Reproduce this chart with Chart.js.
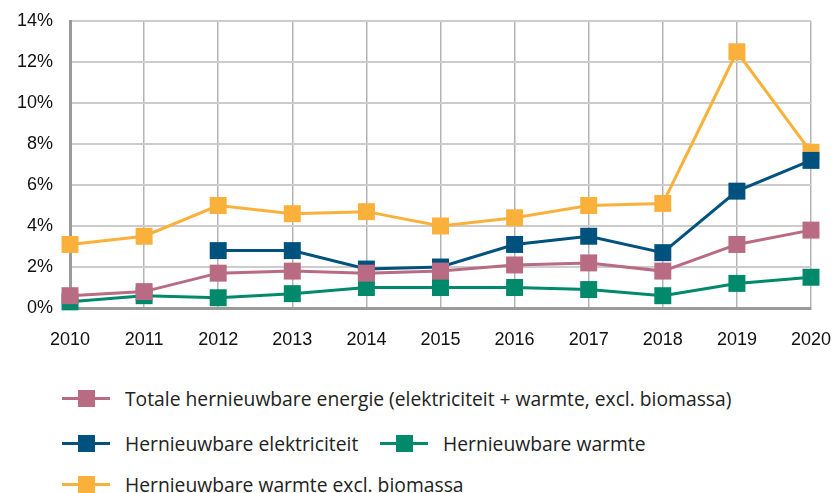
<!DOCTYPE html>
<html>
<head>
<meta charset="utf-8">
<script src="https://cdn.jsdelivr.net/npm/chart.js@4/dist/chart.umd.min.js"></script>
<style>
  body { margin:0; background:#fff; width:837px; height:493px; overflow:hidden; position:relative; }
  #wrap { position:absolute; left:0; top:0; width:837px; height:360px; }
  .leg { position:absolute; height:18px; line-height:18px; font-family:"Open Sans", "Liberation Sans", sans-serif; font-size:19.3px; color:#222; white-space:nowrap; }
  .ico { position:absolute; left:0; top:0; width:48px; height:17px; }
  .ico .ln { position:absolute; left:0; right:0; top:7px; height:3px; }
  .ico .sq { position:absolute; left:16px; top:0; width:17px; height:17px; }
  .txt { position:absolute; left:63px; top:0; }
</style>
</head>
<body>
<div id="wrap"><canvas id="c"></canvas></div>
<div id="legend"></div>
<script>
const years = ["2010","2011","2012","2013","2014","2015","2016","2017","2018","2019","2020"];
const totaal      = [0.6, 0.8, 1.7, 1.8, 1.7, 1.8, 2.1, 2.2, 1.8, 3.1, 3.8];
const elektr      = [null, null, 2.8, 2.8, 1.9, 2.0, 3.1, 3.5, 2.7, 5.7, 7.2];
const warmte      = [0.3, 0.6, 0.5, 0.7, 1.0, 1.0, 1.0, 0.9, 0.6, 1.2, 1.5];
const warmteExBio = [3.1, 3.5, 5.0, 4.6, 4.7, 4.0, 4.4, 5.0, 5.1, 12.5, 7.6];

const names = [
  "Totale hernieuwbare energie (elektriciteit + warmte, excl. biomassa)",
  "Hernieuwbare elektriciteit",
  "Hernieuwbare warmte",
  "Hernieuwbare warmte excl. biomassa"
];
const colors = ["#b86b82", "#00527e", "#00896a", "#f9b13c"];
const series = [totaal, elektr, warmte, warmteExBio];

// legend rows laid out like the original (1 / 2+3 / 4)
const legPos = [
  { left: 62, top: 399 },
  { left: 62, top: 444 },
  { left: 380, top: 444 },
  { left: 62, top: 485 }
];
const legEl = document.getElementById("legend");
names.forEach((n, i) => {
  const d = document.createElement("div");
  d.className = "leg";
  d.style.left = legPos[i].left + "px";
  d.style.top = (legPos[i].top - 9) + "px";
  d.innerHTML = '<span class="ico"><span class="ln" style="background:' + colors[i] + '"></span>' +
    '<span class="sq" style="background:' + colors[i] + '"></span></span><span class="txt">' + n + '</span>';
  legEl.appendChild(d);
});

const tickFont = { family: "Liberation Sans, Arial, sans-serif", size: 18 };

new Chart(document.getElementById("c"), {
  type: "line",
  data: {
    labels: years,
    datasets: series.map((s, i) => ({
      label: names[i],
      data: s,
      borderColor: colors[i],
      backgroundColor: colors[i],
      borderWidth: 3,
      tension: 0,
      pointStyle: "rect",
      pointRadius: 12,
      pointHoverRadius: 12,
      pointBorderWidth: 0,
      clip: false
    }))
  },
  options: {
    responsive: true,
    maintainAspectRatio: false,
    animation: false,
    layout: { padding: { left: 0, right: 26, top: 21, bottom: 0 } },
    plugins: { legend: { display: false }, tooltip: { enabled: false } },
    scales: {
      x: {
        offset: false,
        grid: { color: "#b4b4b4", lineWidth: 1.5, drawTicks: false },
        border: { color: "#9a9a9a", width: 3 },
        ticks: { color: "#111", font: tickFont, padding: 21, maxRotation: 0 },
        afterFit: s => { s.height = 52; s.paddingLeft = 0; s.paddingRight = 0; }
      },
      y: {
        min: 0, max: 14,
        grid: { color: "#cccccc", lineWidth: 2, drawTicks: false },
        border: { color: "#9a9a9a", width: 3 },
        ticks: { stepSize: 2, color: "#111", font: tickFont, padding: 17, callback: v => v + "%" },
        afterFit: s => { s.width = 70; s.paddingTop = 0; s.paddingBottom = 0; }
      }
    }
  }
});
</script>
</body>
</html>
